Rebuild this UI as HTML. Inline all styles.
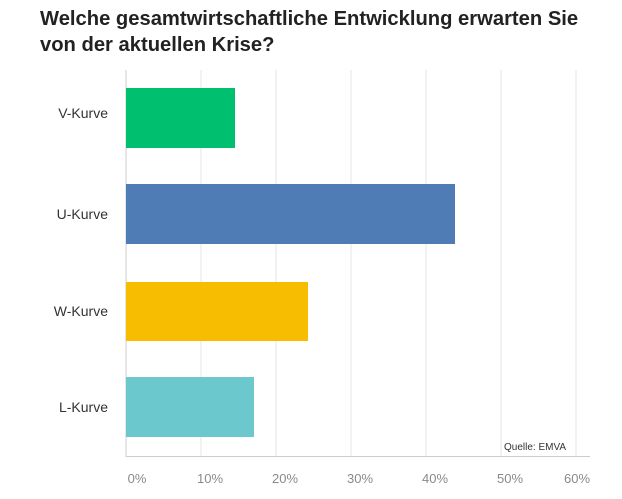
<!DOCTYPE html>
<html><head><style>
body{margin:0;background:#fff;width:622px;height:499px;overflow:hidden;position:relative;font-family:"Liberation Sans",sans-serif}
.t{position:absolute;left:40px;top:6px;font-size:20.2px;font-weight:bold;color:#222;line-height:26px}
</style></head><body>
<div class="t">Welche gesamtwirtschaftliche Entwicklung erwarten Sie<br>von der aktuellen Krise?</div>
<svg width="622" height="499" style="position:absolute;left:0;top:0">
<g stroke="#e6e6e6" stroke-width="1">
<line x1="201" y1="70" x2="201" y2="456"/><line x1="276" y1="70" x2="276" y2="456"/>
<line x1="351" y1="70" x2="351" y2="456"/><line x1="426" y1="70" x2="426" y2="456"/>
<line x1="501" y1="70" x2="501" y2="456"/><line x1="576" y1="70" x2="576" y2="456"/>
</g>
<line x1="126" y1="70" x2="126" y2="457" stroke="#ccc"/>
<line x1="126" y1="456.5" x2="590" y2="456.5" stroke="#ccc"/>
<rect x="126" y="88" width="109" height="60" fill="#00bf6f"/>
<rect x="126" y="184" width="329" height="60" fill="#507cb6"/>
<rect x="126" y="282" width="182" height="59" fill="#f7bd00"/>
<rect x="126" y="377" width="128" height="60" fill="#6bc8cd"/>
<g font-size="14" fill="#333" text-anchor="end" font-family="Liberation Sans,sans-serif">
<text x="108" y="118">V-Kurve</text><text x="108" y="219">U-Kurve</text>
<text x="108" y="316">W-Kurve</text><text x="108" y="412">L-Kurve</text>
</g>
<text x="504" y="450" font-size="10" fill="#333">Quelle: EMVA</text>
<g font-size="13" fill="#8a8a8a" text-anchor="middle">
<text x="137" y="483">0%</text><text x="210" y="483">10%</text><text x="285" y="483">20%</text>
<text x="360" y="483">30%</text><text x="435" y="483">40%</text><text x="510" y="483">50%</text><text x="577" y="483">60%</text>
</g>
</svg>
</body></html>
